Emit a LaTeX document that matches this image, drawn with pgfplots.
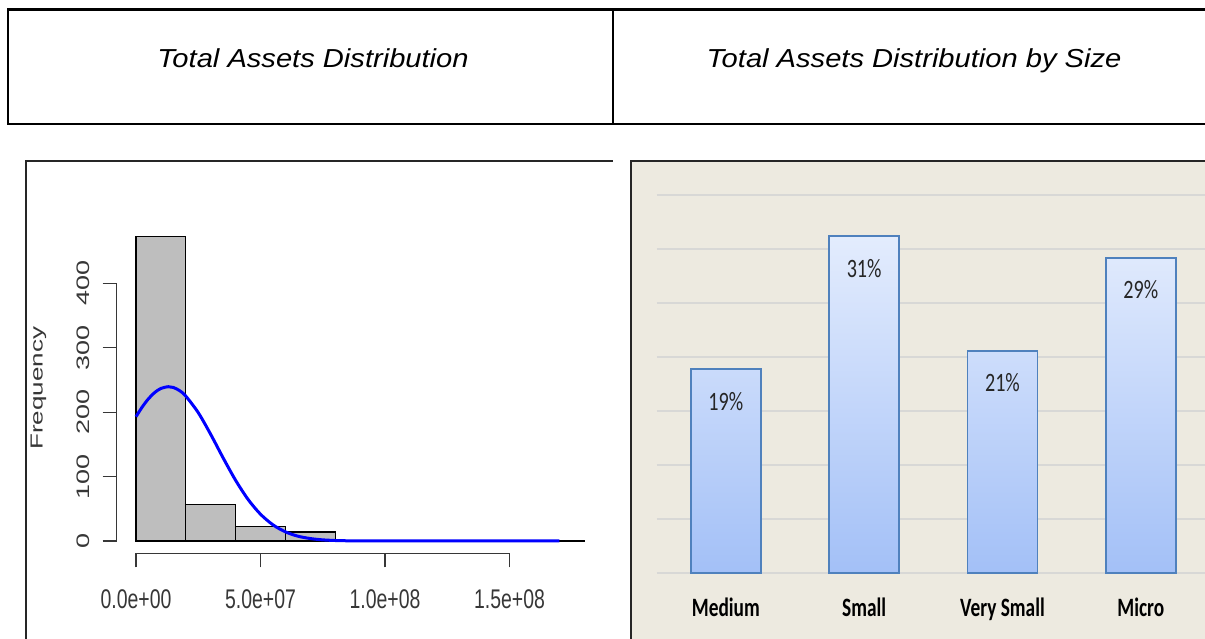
\documentclass[border=0pt]{standalone}
\usepackage{pgfplots}
\pgfplotsset{compat=1.18}
\usepackage{fontspec}
\setmainfont{Liberation Sans}
\newfontfamily\carlito{Carlito}
\definecolor{beige}{RGB}{237,234,224}
\definecolor{gridc}{RGB}{216,216,214}
\definecolor{barline}{RGB}{79,129,189}
\definecolor{bartop}{RGB}{227,236,253}
\definecolor{barbot}{RGB}{163,192,247}
\definecolor{histfill}{RGB}{190,190,190}
\definecolor{rtext}{RGB}{55,55,55}
\begin{document}
\begin{tikzpicture}
\useasboundingbox (0,0) rectangle (1205pt,639pt);
\clip (0,0) rectangle (1205pt,639pt);
% header table
\draw[line width=2.2pt] (1230pt,629.5pt) -- (8pt,629.5pt) -- (8pt,514.7pt) -- (1230pt,514.7pt);
\draw[line width=1.6pt] (612.7pt,629.5pt) -- (612.7pt,514.7pt);
\node[anchor=base, inner sep=0pt] at (313pt,571pt) {\fontsize{26}{30}\selectfont\scalebox{1.12}[1]{\itshape Total Assets Distribution}};
\node[anchor=base, inner sep=0pt] at (914pt,571pt) {\fontsize{26}{30}\selectfont\scalebox{1.12}[1]{\itshape Total Assets Distribution by Size}};
% panels
\fill[beige] (630.7pt,0pt) rectangle (1230pt,478.3pt);
\draw[line width=2pt, black!85] (630.7pt,0pt) -- (630.7pt,478.3pt) -- (1230pt,478.3pt);
\draw[line width=2pt, black!85] (25.5pt,0pt) -- (25.5pt,478.3pt) -- (612.7pt,478.3pt);

% ---------- left: histogram ----------
\begin{axis}[
  at={(116.7pt,85.7pt)}, anchor=south west, scale only axis,
  width=479.95pt, height=321.4pt,
  xmin=-0.775, xmax=18.5, ymin=-19.1, ymax=480,
  clip=false,
  axis x line*=bottom, axis y line*=left,
  axis line style={draw=none},
  tick align=outside, major tick length=14pt,
  tick style={rtext, line width=1.3pt},
  xtick={0,5,10,15},
  xticklabels={\scalebox{0.72}[1]{0.0e+00},\scalebox{0.72}[1]{5.0e+07},\scalebox{0.72}[1]{1.0e+08},\scalebox{0.72}[1]{1.5e+08}},
  ytick={0,100,200,300,400},
  yticklabels={\scalebox{1}[0.67]{0},\scalebox{1}[0.67]{100},\scalebox{1}[0.67]{200},\scalebox{1}[0.67]{300},\scalebox{1}[0.67]{400}},
  ticklabel style={font=\fontsize{27}{30}\selectfont, text=rtext},
  yticklabel style={rotate=90, anchor=south},
  xticklabel shift=19pt,
  yticklabel shift=9pt,
]
\addplot[ybar interval, fill=histfill, draw=black, line width=1.1pt]
  coordinates {(0,473) (2,57) (4,22) (6,14) (8,0) (10,0) (12,0) (14,0) (16,1) (18,1)};
\addplot[blue, line width=3pt, smooth] coordinates {
  (0,193.0) (0.25,208.1) (0.5,220.8) (0.75,230.5) (1.0,236.9) (1.3,239.6)
  (1.5,238.4) (1.75,233.5) (2.0,225.0) (2.5,199.3) (3.0,165.6) (3.5,129.0)
  (4.0,94.3) (4.5,64.6) (5.0,41.6) (5.5,25.1) (6.0,14.2) (6.5,7.5)
  (7.0,3.8) (7.5,1.75) (8.0,0.77) (8.5,0.32) (9.0,0.12) (10,0.01)
  (11,0) (13,0) (15,0) (17,0)};
\draw[rtext, line width=1.3pt] (axis cs:0,-19.1) -- (axis cs:15,-19.1);
\draw[rtext, line width=1.3pt] (axis cs:-0.775,0) -- (axis cs:-0.775,400);
\node[rotate=90, text=rtext, font=\fontsize{26}{30}\selectfont] at (axis cs:-3.92,237) {\scalebox{1}[0.67]{Frequency}};
\end{axis}

% ---------- right: bar chart ----------
\begin{axis}[
  at={(656.7pt,65.7pt)}, anchor=south west, scale only axis,
  width=553.2pt, height=378pt,
  xmin=-0.5, xmax=3.5, ymin=0, ymax=35,
  axis line style={draw=none},
  major tick length=0pt,
  ytick={0,5,...,35}, yticklabels={},
  ymajorgrids, grid style={gridc, line width=2pt},
  xtick={0,1,2,3},
  xticklabels={\scalebox{0.73}[1]{Medium},\scalebox{0.73}[1]{Small},\scalebox{0.73}[1]{Very Small},\scalebox{0.73}[1]{Micro}},
  xticklabel style={font=\carlito\bfseries\fontsize{26.5}{30}\selectfont, text=black},
  xticklabel shift=21pt,
  bar width=70pt,
]
\addplot[ybar, draw=barline, line width=1.8pt, top color=bartop, bottom color=barbot,
  nodes near coords={\scalebox{0.76}[1]{\pgfmathprintnumber[fixed,precision=0,assume math mode=true]{\pgfplotspointmeta}\%}},
  every node near coord/.append style={text=black!85, font=\carlito\fontsize{26.5}{30}\selectfont, anchor=center, yshift=-32pt},
] coordinates {(0,18.9) (1,31.2) (2,20.6) (3,29.2)};
\end{axis}
\end{tikzpicture}
\end{document}
